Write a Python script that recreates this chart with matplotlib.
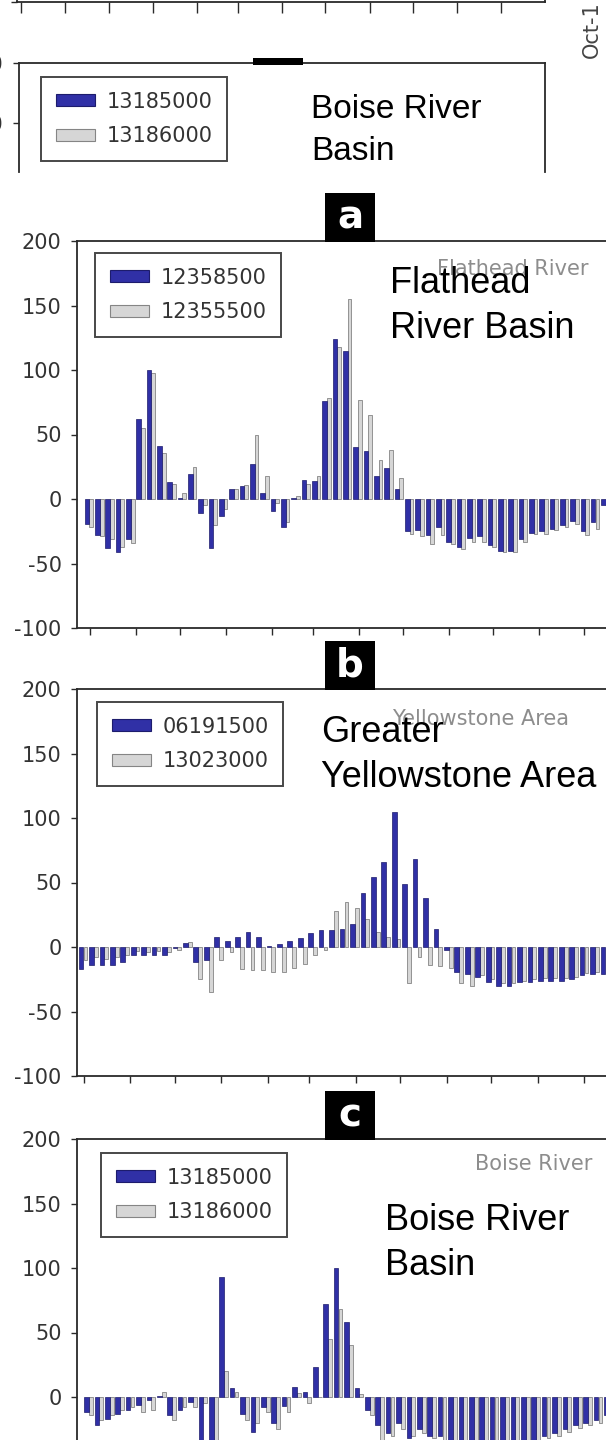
import numpy as np
import matplotlib
matplotlib.use("Agg")
import matplotlib.pyplot as plt
from matplotlib.patches import Rectangle, Patch

plt.rcParams["axes.unicode_minus"] = False

W, H = 606, 1440

# weekly anomalies (%), water-year weeks starting in October
flathead_12358500 = [-19, -28, -38, -41, -31, 62, 100, 41, 13, 1, 19, -11, -38, -13, 8,
                     10, 27, 5, -9, -22, 1, 15, 14, 76, 124, 115, 40, 37, 18, 24, 8,
                     -25, -24, -28, -22, -33, -37, -30, -29, -36, -40, -40, -31, -26,
                     -25, -23, -20, -17, -25, -18, -5, -3]
flathead_12355500 = [-22, -29, -31, -37, -34, 55, 98, 36, 12, 5, 25, -5, -20, -8, 8,
                     11, 50, 18, -3, -18, 2, 12, 18, 78, 118, 155, 77, 65, 30, 38, 16,
                     -27, -29, -35, -28, -35, -39, -33, -33, -37, -41, -41, -33, -27,
                     -27, -24, -22, -19, -28, -23, -7, -4]

yellowstone_06191500 = [-17, -14, -14, -14, -12, -6, -6, -6, -6, -1, 3, -12, -10, 8, 5,
                        8, 12, 8, 1, 2, 5, 7, 11, 13, 13, 14, 18, 42, 54, 66, 105, 49,
                        68, 38, 14, -2, -19, -21, -23, -27, -30, -30, -27, -27, -26,
                        -26, -26, -25, -22, -21, -21, -18]
yellowstone_13023000 = [-10, -8, -9, -8, -6, -3, -4, -3, -4, -2, 4, -25, -35, -10, -4,
                        -17, -18, -18, -19, -19, -16, -13, -6, -2, 28, 35, 30, 22, 12, 8,
                        6, -28, -8, -14, -15, -16, -28, -30, -22, -25, -28, -28, -26,
                        -25, -24, -24, -24, -23, -20, -19, -19, -16]

boise_13185000 = [-12, -22, -17, -13, -10, -6, -2, 1, -14, -10, -4, -60, -60, 93, 7,
                  -13, -27, -8, -20, -7, 8, 4, 23, 72, 100, 58, 7, -10, -22, -28, -20,
                  -32, -25, -30, -30, -36, -38, -40, -42, -42, -42, -40, -36, -33, -30,
                  -28, -25, -22, -20, -18, -14, -12]
boise_13186000 = [-14, -18, -14, -10, -8, -12, -10, 4, -18, -8, -8, -5, -40, 20, 4,
                  -18, -20, -12, -25, -12, 3, -5, 0, 45, 68, 40, 2, -14, -35, -30, -25,
                  -30, -28, -32, -33, -38, -40, -42, -43, -44, -43, -40, -38, -35, -32,
                  -30, -27, -24, -22, -20, -16, -14]

month_days = [31, 30, 31, 31, 28, 31, 30, 31, 30, 31, 31, 30]
yticks = [200, 150, 100, 50, 0, -50, -100]

BLUE = "#3030a6"
BLUE_EDGE = "#1d1c6c"
GRAY = "#d6d6d6"
GRAY_EDGE = "#858585"
SPINE = "#2a2a2a"

month_ticks = np.concatenate([[0], np.cumsum(month_days)[:-1]]) / 7 + 0.3

fig = plt.figure(figsize=(W / 100, H / 100), dpi=100)
fig.patch.set_facecolor("white")


def px_axes(left, top, right, bottom):
    return fig.add_axes([left / W, 1 - bottom / H, (right - left) / W, (bottom - top) / H])


def style(ax):
    for s in ax.spines.values():
        s.set_color(SPINE)
        s.set_linewidth(1.3)
    ax.tick_params(axis="y", direction="out", length=4.5, width=1, color=SPINE,
                   labelsize=15, labelcolor="#333333", pad=6.5)
    ax.tick_params(axis="x", direction="out", length=5, width=1, color=SPINE,
                   labelbottom=False)


def legend(ax, names, x, y):
    handles = [Patch(facecolor=BLUE, edgecolor=BLUE_EDGE, lw=0.8, label=names[0]),
               Patch(facecolor=GRAY, edgecolor=GRAY_EDGE, lw=0.8, label=names[1])]
    leg = ax.legend(handles=handles, loc="upper left", bbox_to_anchor=(x / W, 1 - y / H),
                    bbox_transform=fig.transFigure, borderaxespad=0, fontsize=15,
                    handlelength=1.9, handleheight=0.55, labelspacing=0.7,
                    borderpad=0.7, handletextpad=0.55, fancybox=False)
    leg.get_frame().set_edgecolor("#1a1a1a")
    leg.get_frame().set_linewidth(1.4)
    for t in leg.get_texts():
        t.set_color("#333333")


def label_box(letter, x0, y0, x1, y1):
    fig.add_artist(Rectangle((x0 / W, 1 - y1 / H), (x1 - x0) / W, (y1 - y0) / H,
                             transform=fig.transFigure, facecolor="black",
                             edgecolor="none", zorder=5))
    if letter:
        fig.text((x0 + x1) / 2 / W, 1 - (y0 + y1) / 2 / H, letter, color="white",
                 fontsize=28, fontweight="bold", ha="center", va="center",
                 family="DejaVu Sans", zorder=6)


def overlay(lines, x, baselines, size=26):
    for s, b in zip(lines, baselines):
        fig.text(x / W, 1 - b / H, s, fontsize=size, family="Liberation Sans",
                 color="black", va="baseline", ha="left", zorder=7)


# ---- cut-off panel fragment at the very top
ax0 = px_axes(17, -380, 545, 2)
style(ax0)
ax0.set_ylim(-100, 200)
ax0.set_yticks([-100])
ax0.set_xlim((17 - 18) / 10.04, (545 - 18) / 10.04)
ax0.set_xticks(month_ticks)
ax0.tick_params(axis="x", length=8)

strip = px_axes(19, 63, 545, 172)
style(strip)
strip.spines["bottom"].set_visible(False)
strip.set_ylim(200 - (172 - 63) / 1.2, 200)
strip.set_yticks([200, 150])
strip.set_xticks([])
strip.set_xlim(0, 1)
legend(strip, ["13185000", "13186000"], 41, 77)
label_box(None, 253, 58, 303, 65)
overlay(["Boise River", "Basin"], 311, [118, 160], size=24)
fig.text(592 / W, 1 - 58 / H, "Oct-1", rotation=90, fontsize=15, color="#444444",
         ha="center", va="bottom", family="DejaVu Sans")

# ---- main panels
panels = [
    ("a", 241, 87, 10.33, flathead_12358500, flathead_12355500, ["12358500", "12355500"],
     "Flathead River", (437, 275), ["Flathead", "River Basin"], 390, [293, 338], (95, 253)),
    ("b", 689, 81, 10.44, yellowstone_06191500, yellowstone_13023000, ["06191500", "13023000"],
     "Yellowstone Area", (392, 725), ["Greater", "Yellowstone Area"], 321, [742, 787], (97, 702)),
    ("c", 1139, 86.5, 10.4, boise_13185000, boise_13186000, ["13185000", "13186000"],
     "Boise River", (475, 1170), ["Boise River", "Basin"], 385, [1230, 1275], (101, 1153)),
]

for (letter, top, x0px, step, blue, gray, names, small, small_xy,
     big, big_x, big_base, leg_xy) in panels:
    ax = px_axes(77, top, 640, top + 387)
    style(ax)
    idx = np.arange(len(blue))
    ax.bar(idx, blue, width=0.45, color=BLUE, edgecolor=BLUE_EDGE, linewidth=0.5, zorder=3)
    ax.bar(idx + 0.42, gray, width=0.36, color=GRAY, edgecolor=GRAY_EDGE, linewidth=0.6,
           zorder=2)
    ax.set_ylim(-100, 200)
    ax.set_yticks(yticks)
    ax.set_xlim((77 - x0px) / step, (640 - x0px) / step)
    ax.set_xticks(month_ticks)
    legend(ax, names, *leg_xy)
    fig.text(small_xy[0] / W, 1 - small_xy[1] / H, small, fontsize=15, color="#8d8d8d",
             family="DejaVu Sans", va="baseline", ha="left", zorder=4)
    label_box(letter, 325, top - 48, 375, top + 1)
    overlay(big, big_x, big_base)

fig.savefig("out.png", dpi=100, facecolor="white")
